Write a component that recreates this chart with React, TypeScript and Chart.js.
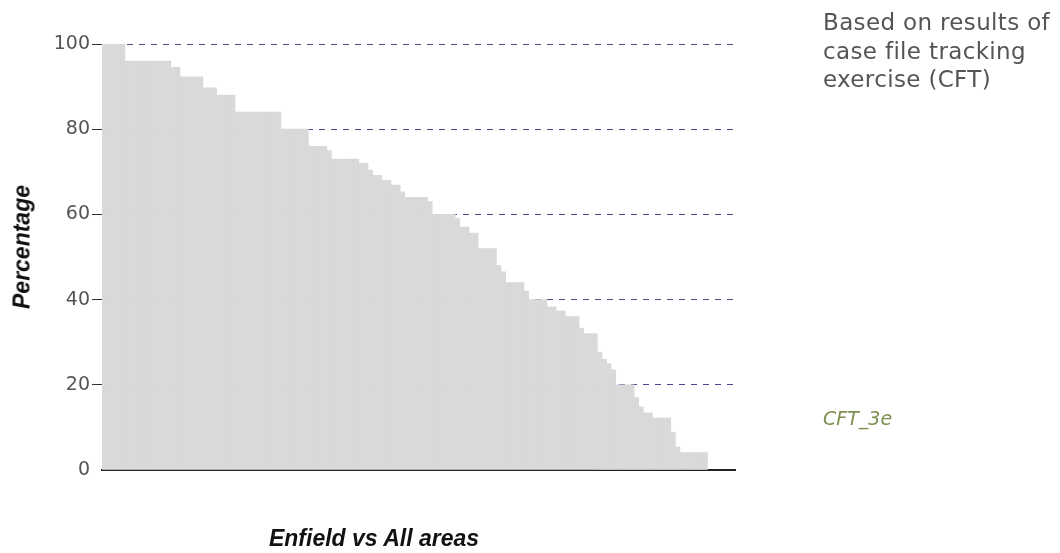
import React, { useEffect, useRef } from "react";
import { Chart, registerables } from "chart.js";

Chart.register(...registerables);

// ---- data -------------------------------------------------------------
const totalSlots = 138;
const areaLabels = Array.from({ length: totalSlots }, (_, i) => `Area ${i + 1}`);

const areaValues = [
  100, 100, 100, 100, 100,
  96, 96, 96, 96, 96, 96, 96, 96, 96, 96,
  94.5, 94.5,
  92.3, 92.3, 92.3, 92.3, 92.3,
  89.7, 89.7, 89.7,
  88, 88, 88, 88,
  84, 84, 84, 84, 84, 84, 84, 84, 84, 84,
  80, 80, 80, 80, 80, 80,
  76, 76, 76, 76,
  75,
  73, 73, 73, 73, 73, 73,
  72, 72,
  70.4,
  69.2, 69.2,
  68, 68,
  66.9, 66.9,
  65.3,
  64, 64, 64, 64, 64,
  63,
  60, 60, 60, 60, 60,
  59,
  57, 57,
  55.6, 55.6,
  52, 52, 52, 52,
  48,
  46.5,
  44, 44, 44, 44,
  42,
  40, 40, 40, 40,
  38.3, 38.3,
  37.3, 37.3,
  36, 36, 36,
  33.3,
  32, 32, 32,
  27.7,
  26,
  25,
  23.5,
  20, 20, 20, 20,
  17,
  14.8,
  13.4, 13.4,
  12.2, 12.2, 12.2, 12.2,
  8.9,
  5.4,
  4.1, 4.1, 4.1, 4.1, 4.1, 4.1,
];

const yTicks = [0, 20, 40, 60, 80, 100];
const noteLines = ["Based on results of", "case file tracking", "exercise (CFT)"];
const codeLabel = "CFT_3e";
const yTitle = "Percentage";
const xTitle = "Enfield vs All areas";

// ---- component --------------------------------------------------------
export default function App() {
  const canvasRef = useRef<HTMLCanvasElement | null>(null);

  useEffect(() => {
    document.body.style.margin = "0";
    const canvas = canvasRef.current;
    if (!canvas) return;
    const chart = new Chart(canvas, {
      type: "bar",
      data: {
        labels: areaLabels,
        datasets: [
          {
            data: areaValues,
            backgroundColor: "#d9d9d9",
            borderWidth: 0,
            barPercentage: 1,
            categoryPercentage: 1,
          },
        ],
      },
      options: {
        animation: false,
        responsive: false,
        maintainAspectRatio: false,
        layout: { padding: { top: 44, right: 325, bottom: 0, left: 0 } },
        plugins: {
          legend: { display: false },
          tooltip: { enabled: false },
          title: { display: false },
        },
        scales: {
          x: {
            type: "category",
            offset: true,
            grid: { display: false },
            ticks: { display: false },
            border: { display: true, color: "#222222", width: 2 },
            afterFit: (s: any) => {
              s.height = 83;
            },
          },
          y: {
            min: 0,
            max: 100,
            afterBuildTicks: (s: any) => {
              s.ticks = yTicks.map((v) => ({ value: v }));
            },
            ticks: {
              padding: 2,
              color: "#555555",
              font: { family: '"DejaVu Sans", Verdana, sans-serif', size: 19 },
            },
            grid: {
              color: (ctx: any) =>
                ctx.tick && ctx.tick.value === 0 ? "rgba(0,0,0,0)" : "#4f4390",
              tickColor: (ctx: any) =>
                ctx.tick && ctx.tick.value === 0 ? "rgba(0,0,0,0)" : "#333333",
              tickLength: 10,
              tickBorderDash: [],
              lineWidth: 1,
            },
            border: { display: true, color: "#222222", width: 1, dash: [6, 6] },
            afterFit: (s: any) => {
              s.width = 102;
            },
          },
        },
      },
    });
    return () => chart.destroy();
  }, []);

  const titleFont = '"Liberation Sans", Arial, sans-serif';

  return (
    <div style={{ position: "relative", width: 1060, height: 553, background: "#ffffff", overflow: "hidden" }}>
      <canvas ref={canvasRef} width={1060} height={553} style={{ display: "block" }} />
      <div
        style={{
          position: "absolute",
          left: 22,
          top: 247,
          transform: "translate(-50%, -50%) rotate(-90deg)",
          whiteSpace: "nowrap",
          fontFamily: titleFont,
          fontWeight: "bold",
          fontStyle: "italic",
          fontSize: 23,
          color: "#111111",
          lineHeight: 1,
        }}
      >
        {yTitle}
      </div>
      <div
        style={{
          position: "absolute",
          left: 374,
          top: 538,
          transform: "translate(-50%, -50%)",
          whiteSpace: "nowrap",
          fontFamily: titleFont,
          fontWeight: "bold",
          fontStyle: "italic",
          fontSize: 23,
          color: "#111111",
          lineHeight: 1,
        }}
      >
        {xTitle}
      </div>
      <div
        style={{
          position: "absolute",
          left: 823,
          top: 8,
          whiteSpace: "nowrap",
          fontFamily: '"DejaVu Sans", Verdana, sans-serif',
          fontSize: 23,
          letterSpacing: "0.35px",
          lineHeight: "28.5px",
          color: "#555555",
        }}
      >
        {noteLines.map((l, i) => (
          <div key={i}>{l}</div>
        ))}
      </div>
      <div
        style={{
          position: "absolute",
          left: 823,
          top: 407,
          whiteSpace: "nowrap",
          fontFamily: '"DejaVu Sans", Verdana, sans-serif',
          fontStyle: "italic",
          fontSize: 19,
          lineHeight: "22px",
          color: "#7d8f4e",
        }}
      >
        {codeLabel}
      </div>
    </div>
  );
}
